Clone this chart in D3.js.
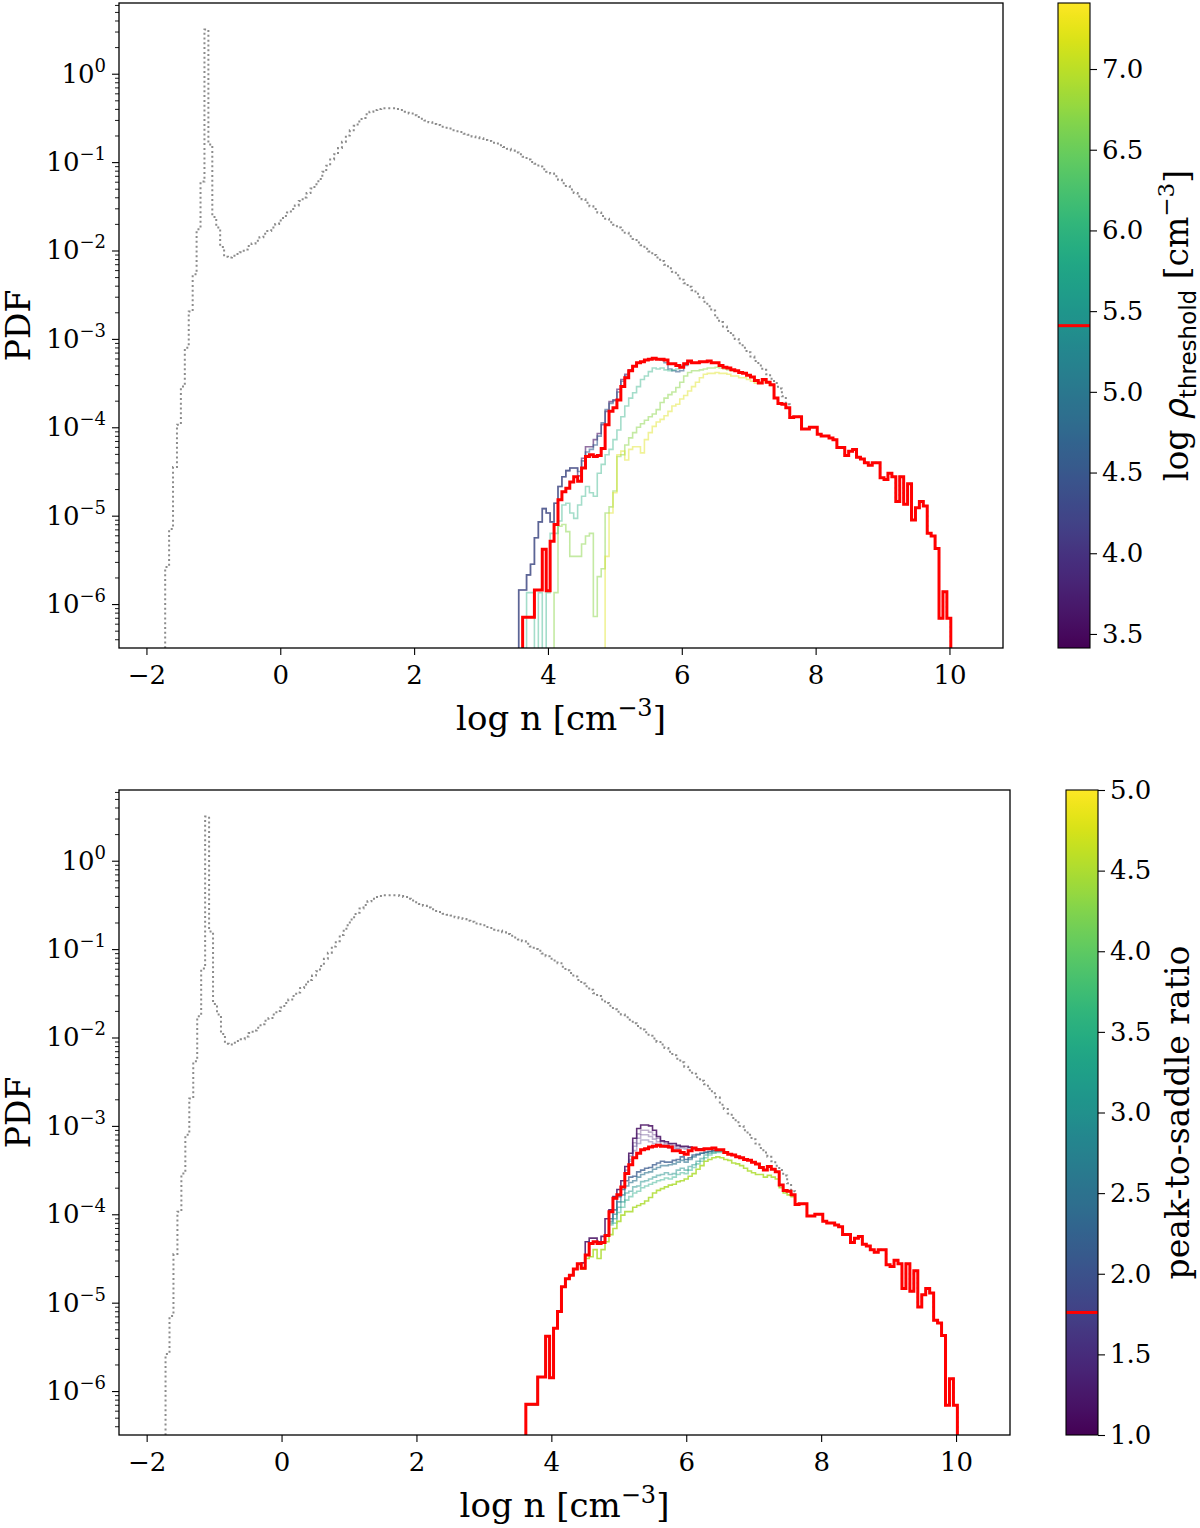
<!DOCTYPE html>
<html>
<head>
<meta charset="utf-8">
<script src="https://cdn.jsdelivr.net/npm/d3@7"></script>
<style>
html,body{margin:0;padding:0;background:#fff;}
svg text{font-family:"DejaVu Serif",serif;fill:#000;}
</style>
</head>
<body>
<svg id="chart" width="1200" height="1528"></svg>
<script>
// ================= DATA =================
const binStart = -1.72;   // first histogram bin edge (log n)
const binWidth = 0.0587;  // histogram bin width (log n)
const xTickValues = [-2, 0, 2, 4, 6, 8, 10];
const yTickExponents = [0, -1, -2, -3, -4, -5, -6];
const thresholdTicks = [3.5, 4.0, 4.5, 5.0, 5.5, 6.0, 6.5, 7.0];
const ratioTicks = [1.0, 1.5, 2.0, 2.5, 3.0, 3.5, 4.0, 4.5, 5.0];
const thresholdRange = [3.413, 7.409];
const ratioRange = [1.0, 5.0];
const fiducialThreshold = 5.41;
const fiducialRatio = 1.76;

// fiducial core PDF (red), log10 PDF per bin, bins 91..199
const fiducialStartBin = 91;
const fiducialLogPdf = [
 -6.15,-6.15,-6.15,-5.84,-5.84,-5.38,-5.85,-5.29,-5.10,-4.82,
 -4.73,-4.69,-4.62,-4.56,-4.61,-4.46,-4.33,-4.31,-4.33,-4.32,
 -4.24,-3.97,-3.82,-3.78,-3.69,-3.54,-3.44,-3.36,-3.31,-3.27,
 -3.26,-3.24,-3.23,-3.22,-3.23,-3.23,-3.24,-3.28,-3.28,-3.30,
 -3.32,-3.28,-3.25,-3.27,-3.27,-3.26,-3.26,-3.25,-3.27,-3.27,
 -3.30,-3.32,-3.33,-3.35,-3.36,-3.38,-3.39,-3.41,-3.43,-3.47,
 -3.50,-3.46,-3.49,-3.52,-3.67,-3.73,-3.74,-3.78,-3.89,-3.88,
 -3.88,-4.02,-4.02,-4.00,-4.00,-4.08,-4.10,-4.10,-4.12,-4.14,
 -4.23,-4.23,-4.32,-4.27,-4.25,-4.34,-4.36,-4.40,-4.43,-4.40,
 -4.40,-4.57,-4.59,-4.52,-4.56,-4.84,-4.56,-4.87,-4.64,-5.05,
 -4.91,-4.84,-4.89,-5.20,-5.23,-5.37,-6.16,-5.86,-6.16
];

// total gas PDF (grey dotted), bins 0..158; above bin 158 it coincides with the fiducial curve
const totalStartBin = 0;
const totalOwnLogPdf = [
 -5.58,-5.15,-4.45,-3.97,-3.54,-3.10,-2.69,-2.27,-1.76,-1.22,
  0.50,-0.80,-1.62,-1.74,-1.96,-2.07,-2.08,-2.06,-2.04,-2.02,
 -1.99,-1.95,-1.92,-1.89,-1.85,-1.81,-1.78,-1.74,-1.70,-1.66,
 -1.61,-1.57,-1.53,-1.49,-1.44,-1.40,-1.35,-1.30,-1.25,-1.19,
 -1.11,-1.04,-0.97,-0.91,-0.84,-0.77,-0.70,-0.64,-0.59,-0.54,
 -0.50,-0.46,-0.43,-0.41,-0.40,-0.39,-0.39,-0.39,-0.39,-0.40,
 -0.41,-0.43,-0.45,-0.47,-0.49,-0.51,-0.53,-0.55,-0.57,-0.58,
 -0.60,-0.61,-0.62,-0.64,-0.65,-0.66,-0.68,-0.69,-0.71,-0.72,
 -0.73,-0.75,-0.76,-0.78,-0.79,-0.81,-0.83,-0.85,-0.87,-0.89,
 -0.91,-0.94,-0.97,-1.00,-1.02,-1.05,-1.08,-1.11,-1.13,-1.16,
 -1.20,-1.24,-1.27,-1.31,-1.35,-1.39,-1.42,-1.46,-1.50,-1.53,
 -1.57,-1.61,-1.64,-1.68,-1.71,-1.74,-1.77,-1.80,-1.84,-1.87,
 -1.91,-1.94,-1.98,-2.01,-2.05,-2.08,-2.12,-2.16,-2.20,-2.24,
 -2.28,-2.33,-2.37,-2.41,-2.45,-2.49,-2.53,-2.58,-2.63,-2.68,
 -2.76,-2.81,-2.86,-2.91,-2.96,-3.00,-3.05,-3.10,-3.15,-3.20,
 -3.25,-3.30,-3.35,-3.40,-3.45,-3.50,-3.56,-3.65,-3.74
];
const totalLogPdf = totalOwnLogPdf.concat(fiducialLogPdf.slice(totalOwnLogPdf.length - fiducialStartBin));

// --- top panel: density threshold variations (log rho_threshold) ---
const thresholdValues = [3.6, 4.6, 5.9, 6.7, 7.2];
const thr36Start = 90;
const thr36LogPdf = [
 -5.84,-5.84,-5.67,-5.55,-5.25,-5.07,-4.92,-4.97,-5.07,-4.86,
 -4.67,-4.56,-4.49,-4.46,-4.46,-4.55,-4.35,-4.22,-4.22,-4.14,
 -4.07,-3.97,-3.82,-3.71,-3.69,-3.57,-3.46,-3.40,-3.35,-3.31,
 -3.27,-3.26,-3.24,-3.23,-3.22,-3.23
];
const thr46OwnStart = 104; // below this bin it coincides with the 3.6 curve
const thr46OwnLogPdf = [
 -4.46,-4.50,-4.38,-4.28,-4.25,-4.20,-4.10,-3.95,-3.80,-3.73,
 -3.70,-3.60,-3.48,-3.42,-3.36,-3.31,-3.27,-3.26,-3.24,-3.23,
 -3.22,-3.23,-3.24,-3.27,-3.34,-3.36,-3.37,-3.36,-3.30,-3.26,-3.27
];
const thr59Start = 92;
const thr59LogPdf = [
 -5.87,-5.87,null,-5.87,null,-5.87,-5.20,-5.20,-5.06,-4.88,
 -4.86,-4.97,-5.03,-4.88,-4.78,-4.67,-4.74,-4.78,-4.52,-4.42,
 -4.31,-4.25,-4.14,-4.03,-3.88,-3.76,-3.67,-3.61,-3.54,-3.46,
 -3.42,-3.37,-3.33,-3.34,-3.33,-3.35,-3.36,-3.35,-3.34,-3.30,
 -3.28,-3.27
];
const thr67Start = 99;
const thr67LogPdf = [
 -5.87,-5.12,-5.10,-5.18,-5.46,-5.46,-5.46,-5.32,-5.23,-5.20,
 -6.14,-5.69,-5.60,-4.97,-4.90,-4.72,-4.33,-4.31,-4.20,-4.12,
 -4.06,-4.00,-3.96,-3.92,-3.88,-3.85,-3.80,-3.72,-3.67,-3.63,
 -3.60,-3.55,-3.49,-3.42,-3.38,-3.36,-3.36,-3.35,-3.34,-3.33,
 -3.33,-3.32,-3.33,-3.34,-3.35,-3.36
];
const thr72Start = 112;
const thr72LogPdf = [
 -5.46,-4.97,-4.74,-4.31,-4.27,-4.37,-4.25,-4.22,-4.22,-4.29,
 -4.14,-4.06,-3.99,-3.94,-3.91,-3.87,-3.82,-3.76,-3.74,-3.68,
 -3.64,-3.59,-3.54,-3.49,-3.44,-3.40,-3.39,-3.39,-3.38,-3.39,
 -3.39,-3.40,-3.42,-3.42,-3.44,-3.44,-3.46,-3.48,-3.50,-3.50,
 -3.48,-3.50,-3.53
];

// --- bottom panel: peak-to-saddle ratio variations (below the own start they coincide with the fiducial) ---
const ratioValues = [1.15, 1.3, 1.45, 1.6, 2.1, 2.5, 3.0, 3.4, 4.5];
const ratioOwnStarts = [105, 116, 117, 117, 112, 112, 112, 112, 105];
const ratio115LogPdf = [
 -4.55,-4.31,-4.27,-4.27,-4.31,-4.25,-4.05,-3.95,-3.80,-3.72,
 -3.62,-3.46,-3.31,-3.14,-3.03,-2.99,-2.99,-3.00,-3.05,-3.12,
 -3.17,-3.18,-3.20,-3.20,-3.22,-3.23,-3.23,-3.24,-3.25,-3.26,
 -3.26,-3.26,-3.26,-3.25
];
const ratio130LogPdf = [
 -3.50,-3.34,-3.19,-3.09,-3.05,-3.05,-3.07,-3.10,-3.14,-3.18,
 -3.20,-3.21,-3.22,-3.23,-3.24,-3.24,-3.25,-3.26
];
const ratio145LogPdf = [
 -3.38,-3.23,-3.14,-3.10,-3.10,-3.12,-3.15,-3.18,-3.21,-3.22,
 -3.23,-3.24,-3.25,-3.25,-3.26
];
const ratio160LogPdf = [
 -3.40,-3.28,-3.20,-3.16,-3.16,-3.18,-3.20,-3.21,-3.23,-3.24,
 -3.25,-3.26,-3.26
];
const ratio210LogPdf = [
 -4.05,-3.95,-3.80,-3.72,-3.62,-3.58,-3.57,-3.52,-3.50,-3.48,
 -3.47,-3.44,-3.42,-3.40,-3.41,-3.41,-3.39,-3.38,-3.35,-3.38,
 -3.36,-3.33,-3.32,-3.31,-3.30,-3.29,-3.28,-3.28,-3.28
];
const ratio250LogPdf = [
 -4.08,-4.00,-3.86,-3.78,-3.68,-3.64,-3.62,-3.58,-3.55,-3.53,
 -3.52,-3.49,-3.47,-3.45,-3.45,-3.44,-3.43,-3.41,-3.39,-3.41,
 -3.38,-3.35,-3.33,-3.31,-3.30,-3.29,-3.28,-3.28,-3.28
];
const ratio300LogPdf = [
 -4.10,-4.05,-3.92,-3.86,-3.76,-3.74,-3.69,-3.68,-3.63,-3.62,
 -3.60,-3.58,-3.56,-3.55,-3.53,-3.55,-3.54,-3.50,-3.48,-3.50,
 -3.46,-3.44,-3.40,-3.37,-3.33,-3.31,-3.30,-3.29,-3.28
];
const ratio340LogPdf = [
 -4.12,-4.10,-3.98,-3.92,-3.84,-3.80,-3.76,-3.74,-3.70,-3.68,
 -3.66,-3.64,-3.62,-3.61,-3.59,-3.60,-3.58,-3.55,-3.53,-3.54,
 -3.50,-3.47,-3.43,-3.40,-3.36,-3.33,-3.31,-3.30,-3.30
];
const ratio450LogPdf = [
 -4.62,-4.50,-4.48,-4.40,-4.50,-4.40,-4.31,-4.23,-4.16,-4.08,
 -4.01,-3.97,-3.97,-3.92,-3.90,-3.88,-3.85,-3.81,-3.76,-3.73,
 -3.71,-3.69,-3.67,-3.66,-3.63,-3.62,-3.60,-3.57,-3.54,-3.49,
 -3.45,-3.40,-3.38,-3.36,-3.35,-3.36,-3.38,-3.39,-3.42,-3.43,
 -3.45,-3.48,-3.51,-3.53,-3.55,-3.55,-3.58,-3.56,-3.58,-3.60,
 -3.70,-3.76,-3.78,-3.80
];
const ratioOwnLogPdf = [ratio115LogPdf, ratio130LogPdf, ratio145LogPdf, ratio160LogPdf,
  ratio210LogPdf, ratio250LogPdf, ratio300LogPdf, ratio340LogPdf, ratio450LogPdf];

// series assembly (shared heads taken from the curves they coincide with)
function joinHead(baseStart, base, ownStart, own) {
  return base.slice(0, ownStart - baseStart).concat(own);
}
const thresholdSeries = [
  {value: thresholdValues[0], start: thr36Start, pdf: thr36LogPdf},
  {value: thresholdValues[1], start: thr36Start, pdf: joinHead(thr36Start, thr36LogPdf, thr46OwnStart, thr46OwnLogPdf)},
  {value: thresholdValues[2], start: thr59Start, pdf: thr59LogPdf},
  {value: thresholdValues[3], start: thr67Start, pdf: thr67LogPdf},
  {value: thresholdValues[4], start: thr72Start, pdf: thr72LogPdf}
];
const ratioSeries = ratioValues.map((r, i) => ({
  value: r, start: fiducialStartBin,
  pdf: joinHead(fiducialStartBin, fiducialLogPdf, ratioOwnStarts[i], ratioOwnLogPdf[i])
}));

// ================= DRAWING =================
const svg = d3.select("#chart");
const defs = svg.append("defs");
const xDomain = [-2.41, 10.8];
const yDomain = [Math.pow(10, -6.497), Math.pow(10, 0.80)];
const MINUS = "\u2212";

function stepPath(x, y, start, vals, yBottom, closeEnd) {
  const edge = i => x(binStart + (start + i) * binWidth);
  let d = `M${edge(0)},${yBottom + 5}`;
  vals.forEach((v, i) => {
    const yy = (v === null) ? yBottom + 5 : y(Math.pow(10, v));
    d += `L${edge(i)},${yy}L${edge(i + 1)},${yy}`;
  });
  if (closeEnd) d += `L${edge(vals.length)},${yBottom + 5}`;
  return d;
}

function styleAxis(g, size) {
  g.attr("font-size", size).attr("font-family", null);
  g.select(".domain").remove();
  g.selectAll(".tick line").attr("stroke", "#000").attr("stroke-width", 1.1);
}

function drawPanel(p) {
  const g = svg.append("g");
  const x = d3.scaleLinear().domain(xDomain).range([p.left, p.right]);
  const y = d3.scaleLog().domain(yDomain).range([p.bottom, p.top]);

  defs.append("clipPath").attr("id", p.id + "clip")
    .append("rect").attr("x", p.left).attr("y", p.top)
    .attr("width", p.right - p.left).attr("height", p.bottom - p.top);
  const plot = g.append("g").attr("clip-path", `url(#${p.id}clip)`);

  plot.append("path")
    .attr("d", stepPath(x, y, totalStartBin, totalLogPdf, p.bottom, true))
    .attr("fill", "none").attr("stroke", "#8c8c8c")
    .attr("stroke-width", 2).attr("stroke-dasharray", "2,2.8");

  p.series.forEach((s, i) => {
    plot.append("path")
      .attr("d", stepPath(x, y, s.start, s.pdf, p.bottom, false))
      .attr("fill", "none")
      .attr("stroke", d3.interpolateViridis((s.value - p.cRange[0]) / (p.cRange[1] - p.cRange[0])))
      .attr("stroke-width", 1.6)
      .attr("stroke-opacity", p.opacity[i]);
  });

  plot.append("path")
    .attr("d", stepPath(x, y, fiducialStartBin, fiducialLogPdf, p.bottom, true))
    .attr("fill", "none").attr("stroke", "#ff0000").attr("stroke-width", 3);

  // x axis
  const gx = g.append("g").attr("transform", `translate(0,${p.bottom})`)
    .call(d3.axisBottom(x).tickValues(xTickValues).tickSize(7).tickPadding(11)
      .tickFormat(d3.format("d")));
  styleAxis(gx, 26);

  // y axis: minor ticks
  const minors = [];
  for (let e = -7; e <= 0; e++) for (let m = 2; m <= 9; m++) {
    const v = m * Math.pow(10, e);
    if (v > yDomain[0] && v < yDomain[1]) minors.push(v);
  }
  const gym = g.append("g").attr("transform", `translate(${p.left},0)`)
    .call(d3.axisLeft(y).tickValues(minors).tickSize(4).tickFormat(""));
  styleAxis(gym, 10);
  gym.selectAll(".tick line").attr("stroke-width", 0.9);

  const gy = g.append("g").attr("transform", `translate(${p.left},0)`)
    .call(d3.axisLeft(y).tickValues(yTickExponents.map(e => Math.pow(10, e))).tickSize(7).tickPadding(6));
  styleAxis(gy, 26);
  gy.selectAll(".tick text").each(function(d) {
    const t = d3.select(this);
    const e = Math.round(Math.log10(d));
    t.text(null);
    t.append("tspan").text("10");
    t.append("tspan").attr("dy", -11).attr("font-size", 18).text(e < 0 ? MINUS + (-e) : String(e));
  });

  // frame
  g.append("rect").attr("x", p.left).attr("y", p.top)
    .attr("width", p.right - p.left).attr("height", p.bottom - p.top)
    .attr("fill", "none").attr("stroke", "#000").attr("stroke-width", 1.3);

  // x label
  const xl = g.append("text").attr("x", (p.left + p.right) / 2).attr("y", p.bottom + 82)
    .attr("text-anchor", "middle").attr("font-size", 34);
  xl.append("tspan").text("log n [cm");
  xl.append("tspan").attr("dy", -14).attr("font-size", 24).text(MINUS + "3");
  xl.append("tspan").attr("dy", 14).text("]");

  // y label
  g.append("text").attr("transform", `translate(30,${(p.top + p.bottom) / 2}) rotate(-90)`)
    .attr("text-anchor", "middle").attr("font-size", 33).text("PDF");
}

function drawColorbar(c) {
  const s = d3.scaleLinear().domain(c.range).range([c.bottom, c.top]);
  const grad = defs.append("linearGradient").attr("id", c.id + "grad")
    .attr("x1", 0).attr("y1", 1).attr("x2", 0).attr("y2", 0);
  d3.range(0, 1.0001, 0.02).forEach(t => {
    grad.append("stop").attr("offset", t).attr("stop-color", d3.interpolateViridis(t));
  });
  const g = svg.append("g");
  g.append("rect").attr("x", c.left).attr("y", c.top)
    .attr("width", c.right - c.left).attr("height", c.bottom - c.top)
    .attr("fill", `url(#${c.id}grad)`);
  g.append("line").attr("x1", c.left).attr("x2", c.right)
    .attr("y1", s(c.fiducial)).attr("y2", s(c.fiducial))
    .attr("stroke", "#ff0000").attr("stroke-width", 3);
  g.append("rect").attr("x", c.left).attr("y", c.top)
    .attr("width", c.right - c.left).attr("height", c.bottom - c.top)
    .attr("fill", "none").attr("stroke", "#000").attr("stroke-width", 1.1);
  const ga = g.append("g").attr("transform", `translate(${c.right},0)`)
    .call(d3.axisRight(s).tickValues(c.ticks).tickSize(7).tickPadding(5).tickFormat(d3.format(".1f")));
  styleAxis(ga, 26);

  const lab = g.append("text")
    .attr("transform", `translate(${c.labelX},${(c.top + c.bottom) / 2}) rotate(-90)`)
    .attr("text-anchor", "middle").attr("font-size", 33);
  c.label(lab);
}

// panels
drawPanel({id: "top", left: 119, right: 1003, top: 3, bottom: 648,
  series: thresholdSeries, cRange: thresholdRange,
  opacity: [0.6, 0.6, 0.42, 0.5, 0.45]});
drawPanel({id: "bot", left: 119, right: 1010, top: 790, bottom: 1435,
  series: ratioSeries, cRange: ratioRange,
  opacity: [0.85, 0.35, 0.35, 0.35, 0.75, 0.6, 0.5, 0.45, 0.85]});

drawColorbar({id: "cb1", left: 1058, right: 1090, top: 3, bottom: 648,
  range: thresholdRange, ticks: thresholdTicks, fiducial: fiducialThreshold, labelX: 1188,
  label: t => {
    t.append("tspan").text("log ");
    t.append("tspan").attr("font-family", "DejaVu Sans").attr("font-style", "italic").text("\u03c1");
    t.append("tspan").attr("font-family", "DejaVu Sans").attr("font-size", 23).attr("dy", 8).text("threshold");
    t.append("tspan").attr("dy", -8).text(" [cm");
    t.append("tspan").attr("font-size", 23).attr("dy", -14).text(MINUS + "3");
    t.append("tspan").attr("dy", 14).text("]");
  }});
drawColorbar({id: "cb2", left: 1066, right: 1098, top: 790, bottom: 1435,
  range: ratioRange, ticks: ratioTicks, fiducial: fiducialRatio, labelX: 1189,
  label: t => t.text("peak-to-saddle ratio")});
</script>
</body>
</html>
